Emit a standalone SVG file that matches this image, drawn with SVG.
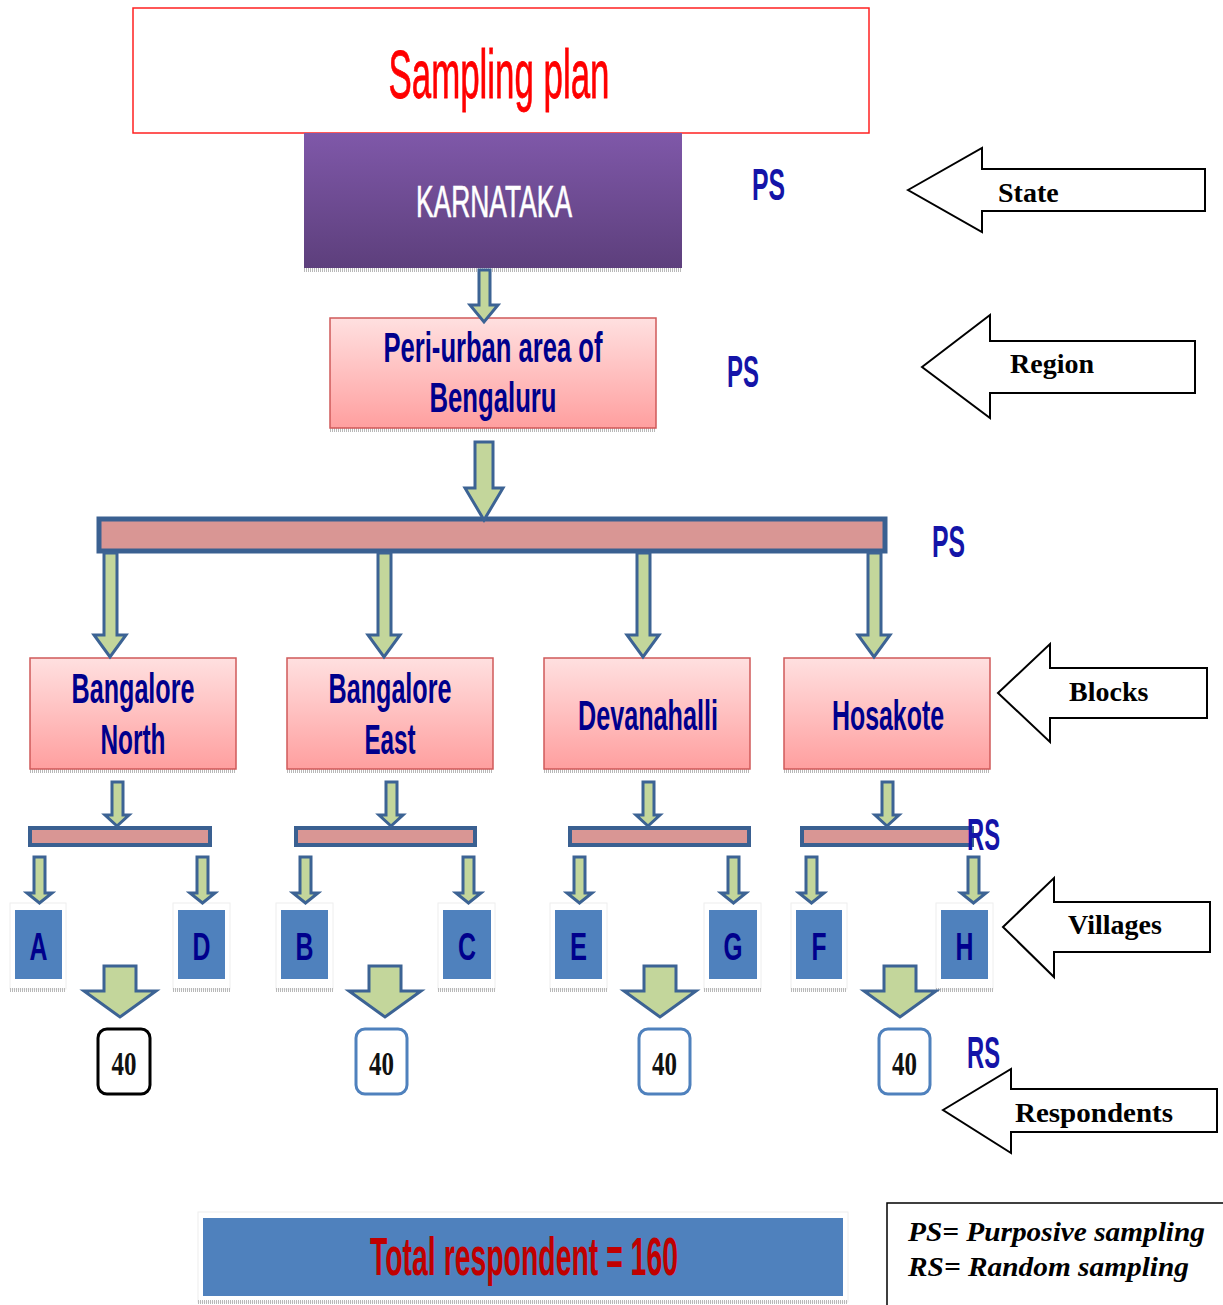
<svg xmlns="http://www.w3.org/2000/svg" width="1223" height="1305" viewBox="0 0 1223 1305">
<defs>
<linearGradient id="gPurple" x1="0" y1="0" x2="0" y2="1"><stop offset="0" stop-color="#7f58a9"/><stop offset="1" stop-color="#5d3f7c"/></linearGradient>
<linearGradient id="gPink" x1="0" y1="0" x2="0" y2="1"><stop offset="0" stop-color="#ffe0e0"/><stop offset="1" stop-color="#ff9f9f"/></linearGradient>
</defs>
<style>
.sans{font-family:"Liberation Sans",Arial,sans-serif}
.serif{font-family:"Liberation Serif","Times New Roman",serif}
.navy{fill:#00008c;font-weight:bold}
.code{fill:#1414a8;font-weight:bold;font-size:44px}
.pink{fill:url(#gPink);stroke:#d05a5a;stroke-width:1.5}
.bar{fill:#d99694;stroke:#3a6091;stroke-width:5}
.sbar{fill:#d99694;stroke:#3a6091;stroke-width:4}
.arr{fill:#c3d69b;stroke:#3c6394;stroke-width:3;stroke-linejoin:miter}
.shadow{stroke:#b8b8b8;stroke-width:4;stroke-dasharray:1 1;fill:none}
.vframe{fill:#fff;stroke:#eee;stroke-width:1}
.vbox{fill:#4f81bd}
.vlet{font-size:39px}
.cnt{fill:#fff;stroke-width:3}
.num{font-size:34px;font-weight:bold;fill:#111}
.side{fill:#fff;stroke:#000;stroke-width:2}
.lab{font-size:28px;font-weight:bold;fill:#000}
.legend{font-size:28px;font-weight:bold;font-style:italic;fill:#000}
</style>

<g id="title">
<rect x="133" y="8" width="736" height="125" fill="#fff" stroke="#ff2020" stroke-width="1.5"/>
<text x="499" y="98" class="sans" font-size="68" fill="#ff0000" text-anchor="middle" textLength="221" lengthAdjust="spacingAndGlyphs" stroke="#ff0000" stroke-width="0.8">Sampling plan</text>
</g>

<g id="karnataka">
<line x1="304" y1="270" x2="682" y2="270" class="shadow"/>
<rect x="304" y="133" width="378" height="135" fill="url(#gPurple)"/>
<text x="494" y="217" class="sans" font-size="44" fill="#fff" text-anchor="middle" textLength="156" lengthAdjust="spacingAndGlyphs" stroke="#fff" stroke-width="0.6">KARNATAKA</text>
</g>

<g id="periurban">
<line x1="330" y1="430" x2="656" y2="430" class="shadow"/>
<rect x="330" y="318" width="326" height="110" class="pink"/>
<text transform="translate(493,362) scale(0.61,1)" x="0" y="0" class="sans navy" font-size="42" text-anchor="middle" textLength="359" lengthAdjust="spacingAndGlyphs">Peri-urban area of</text>
<text x="493" y="412" class="sans navy" font-size="42" text-anchor="middle" textLength="127" lengthAdjust="spacingAndGlyphs">Bengaluru</text>
</g>

<g id="mainbar"><rect x="99" y="519" width="786" height="32" class="bar"/></g>

<g id="block-north">
<line x1="30" y1="771" x2="236" y2="771" class="shadow"/>
<rect x="30" y="658" width="206" height="111" class="pink"/>
<text x="133" y="703" class="sans navy" font-size="42" text-anchor="middle" textLength="123" lengthAdjust="spacingAndGlyphs">Bangalore</text>
<text x="133" y="754" class="sans navy" font-size="42" text-anchor="middle" textLength="65" lengthAdjust="spacingAndGlyphs">North</text>
</g>
<g id="block-east">
<line x1="287" y1="771" x2="493" y2="771" class="shadow"/>
<rect x="287" y="658" width="206" height="111" class="pink"/>
<text x="390" y="703" class="sans navy" font-size="42" text-anchor="middle" textLength="123" lengthAdjust="spacingAndGlyphs">Bangalore</text>
<text x="390" y="754" class="sans navy" font-size="42" text-anchor="middle" textLength="51" lengthAdjust="spacingAndGlyphs">East</text>
</g>
<g id="block-devanahalli">
<line x1="544" y1="771" x2="750" y2="771" class="shadow"/>
<rect x="544" y="658" width="206" height="111" class="pink"/>
<text x="648" y="730" class="sans navy" font-size="42" text-anchor="middle" textLength="140" lengthAdjust="spacingAndGlyphs">Devanahalli</text>
</g>
<g id="block-hosakote">
<line x1="784" y1="771" x2="990" y2="771" class="shadow"/>
<rect x="784" y="658" width="206" height="111" class="pink"/>
<text x="888" y="730" class="sans navy" font-size="42" text-anchor="middle" textLength="112" lengthAdjust="spacingAndGlyphs">Hosakote</text>
</g>

<g id="subbars">
<rect x="30" y="828" width="180" height="17" class="sbar"/>
<rect x="296" y="828" width="179" height="17" class="sbar"/>
<rect x="570" y="828" width="179" height="17" class="sbar"/>
<rect x="802" y="828" width="170" height="17" class="sbar"/>
</g>

<g id="villages" class="sans">
<g id="v-A"><rect x="10" y="903" width="56" height="86" class="vframe"/><line x1="10" y1="990" x2="66" y2="990" class="shadow"/><rect x="15" y="910" width="47" height="69" class="vbox"/><text x="38.5" y="960" class="navy vlet" text-anchor="middle" textLength="18" lengthAdjust="spacingAndGlyphs">A</text></g>
<g id="v-D"><rect x="173" y="903" width="57" height="86" class="vframe"/><line x1="173" y1="990" x2="230" y2="990" class="shadow"/><rect x="178" y="910" width="47" height="69" class="vbox"/><text x="201.5" y="960" class="navy vlet" text-anchor="middle" textLength="18" lengthAdjust="spacingAndGlyphs">D</text></g>
<g id="v-B"><rect x="276" y="903" width="57" height="86" class="vframe"/><line x1="276" y1="990" x2="333" y2="990" class="shadow"/><rect x="281" y="910" width="47" height="69" class="vbox"/><text x="304.5" y="960" class="navy vlet" text-anchor="middle" textLength="18" lengthAdjust="spacingAndGlyphs">B</text></g>
<g id="v-C"><rect x="438" y="903" width="57" height="86" class="vframe"/><line x1="438" y1="990" x2="495" y2="990" class="shadow"/><rect x="443" y="910" width="48" height="69" class="vbox"/><text x="467" y="960" class="navy vlet" text-anchor="middle" textLength="18" lengthAdjust="spacingAndGlyphs">C</text></g>
<g id="v-E"><rect x="550" y="903" width="57" height="86" class="vframe"/><line x1="550" y1="990" x2="607" y2="990" class="shadow"/><rect x="555" y="910" width="47" height="69" class="vbox"/><text x="578.5" y="960" class="navy vlet" text-anchor="middle" textLength="17" lengthAdjust="spacingAndGlyphs">E</text></g>
<g id="v-G"><rect x="704" y="903" width="57" height="86" class="vframe"/><line x1="704" y1="990" x2="761" y2="990" class="shadow"/><rect x="709" y="910" width="48" height="69" class="vbox"/><text x="733" y="960" class="navy vlet" text-anchor="middle" textLength="19" lengthAdjust="spacingAndGlyphs">G</text></g>
<g id="v-F"><rect x="791" y="903" width="56" height="86" class="vframe"/><line x1="791" y1="990" x2="847" y2="990" class="shadow"/><rect x="796" y="910" width="46" height="69" class="vbox"/><text x="819" y="960" class="navy vlet" text-anchor="middle" textLength="15" lengthAdjust="spacingAndGlyphs">F</text></g>
<g id="v-H"><rect x="936" y="903" width="57" height="86" class="vframe"/><line x1="936" y1="990" x2="993" y2="990" class="shadow"/><rect x="941" y="910" width="47" height="69" class="vbox"/><text x="964.5" y="960" class="navy vlet" text-anchor="middle" textLength="18" lengthAdjust="spacingAndGlyphs">H</text></g>
</g>

<g id="counts" class="serif">
<g id="c1"><rect x="98" y="1029" width="52" height="65" rx="9" class="cnt" stroke="#000"/><text x="124" y="1075" class="num" text-anchor="middle" textLength="25" lengthAdjust="spacingAndGlyphs">40</text></g>
<g id="c2"><rect x="356" y="1029" width="51" height="65" rx="9" class="cnt" stroke="#4f81bd"/><text x="381.5" y="1075" class="num" text-anchor="middle" textLength="25" lengthAdjust="spacingAndGlyphs">40</text></g>
<g id="c3"><rect x="639" y="1029" width="51" height="65" rx="9" class="cnt" stroke="#4f81bd"/><text x="664.5" y="1075" class="num" text-anchor="middle" textLength="25" lengthAdjust="spacingAndGlyphs">40</text></g>
<g id="c4"><rect x="879" y="1029" width="51" height="65" rx="9" class="cnt" stroke="#4f81bd"/><text x="904.5" y="1075" class="num" text-anchor="middle" textLength="25" lengthAdjust="spacingAndGlyphs">40</text></g>
</g>

<g id="connectors">
<path class="arr" d="M479,270 H490 V305 H498 L484,322 L470,305 H479 Z"/>
<path class="arr" d="M475,442 H493 V488 H503 L484,520 L465,488 H475 Z"/>
<path class="arr" d="M104,553 H117 V635 H126 L110,657 L94,635 H104 Z"/>
<path class="arr" d="M378,553 H391 V635 H400 L384,657 L368,635 H378 Z"/>
<path class="arr" d="M637,553 H650 V635 H659 L643,657 L627,635 H637 Z"/>
<path class="arr" d="M868,553 H881 V635 H890 L874,657 L858,635 H868 Z"/>
<path class="arr" d="M112,782 H123 V815 H129 L117,826 L105,815 H112 Z"/>
<path class="arr" d="M386,782 H397 V815 H403 L391,826 L379,815 H386 Z"/>
<path class="arr" d="M643,782 H654 V815 H660 L648,826 L636,815 H643 Z"/>
<path class="arr" d="M882,782 H893 V815 H899 L887,826 L875,815 H882 Z"/>
<path class="arr" d="M34,857 H45 V893 H52 L39.5,903 L27,893 H34 Z"/>
<path class="arr" d="M197,857 H208 V893 H215 L202.5,903 L190,893 H197 Z"/>
<path class="arr" d="M300,857 H311 V893 H318 L305.5,903 L293,893 H300 Z"/>
<path class="arr" d="M463,857 H474 V893 H481 L468.5,903 L456,893 H463 Z"/>
<path class="arr" d="M574,857 H585 V893 H592 L579.5,903 L567,893 H574 Z"/>
<path class="arr" d="M728,857 H739 V893 H746 L733.5,903 L721,893 H728 Z"/>
<path class="arr" d="M806,857 H817 V893 H824 L811.5,903 L799,893 H806 Z"/>
<path class="arr" d="M968,857 H979 V893 H986 L973.5,903 L961,893 H968 Z"/>
<path class="arr" d="M104,966 H136 V991 H156 L120,1017 L84,991 H104 Z"/>
<path class="arr" d="M369,966 H401 V991 H421 L385,1017 L349,991 H369 Z"/>
<path class="arr" d="M644,966 H676 V991 H696 L660,1017 L624,991 H644 Z"/>
<path class="arr" d="M884,966 H916 V991 H936 L900,1017 L864,991 H884 Z"/>
</g>

<g id="method-labels" class="sans">
<text transform="translate(768.5,200) scale(0.56,1)" x="0" y="0" class="code" text-anchor="middle" textLength="59" lengthAdjust="spacingAndGlyphs">PS</text>
<text transform="translate(743,387) scale(0.56,1)" x="0" y="0" class="code" text-anchor="middle" textLength="57" lengthAdjust="spacingAndGlyphs">PS</text>
<text transform="translate(948.5,557) scale(0.56,1)" x="0" y="0" class="code" text-anchor="middle" textLength="59" lengthAdjust="spacingAndGlyphs">PS</text>
<text transform="translate(983.5,850) scale(0.56,1)" x="0" y="0" class="code" text-anchor="middle" textLength="59" lengthAdjust="spacingAndGlyphs">RS</text>
<text transform="translate(983.5,1068) scale(0.56,1)" x="0" y="0" class="code" text-anchor="middle" textLength="59" lengthAdjust="spacingAndGlyphs">RS</text>
</g>

<g id="level-state"><path class="side" d="M908,190 L982,148 V169 H1205 V211 H982 V232 Z"/><text x="998" y="202" class="serif lab">State</text></g>
<g id="level-region"><path class="side" d="M922,367 L990,315 V341 H1195 V393 H990 V418 Z"/><text x="1010" y="373" class="serif lab">Region</text></g>
<g id="level-blocks"><path class="side" d="M998,693 L1050,644 V668 H1207 V718 H1050 V742 Z"/><text x="1069" y="701" class="serif lab">Blocks</text></g>
<g id="level-villages"><path class="side" d="M1003,927 L1054,878 V902 H1210 V952 H1054 V977 Z"/><text x="1068" y="934" class="serif lab">Villages</text></g>
<g id="level-respondents"><path class="side" d="M943,1110 L1011,1069 V1089 H1217 V1132 H1011 V1153 Z"/><text x="1015" y="1122" class="serif lab" textLength="158" lengthAdjust="spacingAndGlyphs">Respondents</text></g>

<g id="total">
<rect x="198" y="1212" width="650" height="90" fill="#fff" stroke="#eee" stroke-width="1"/>
<line x1="198" y1="1302" x2="848" y2="1302" class="shadow"/>
<rect x="203" y="1218" width="640" height="78" fill="#4f81bd"/>
<text transform="translate(524,1275) scale(0.53,1)" x="0" y="0" class="sans" font-size="53" font-weight="bold" fill="#c00000" text-anchor="middle" textLength="581" lengthAdjust="spacingAndGlyphs">Total respondent = 160</text>
</g>

<g id="legend">
<rect x="887" y="1203" width="345" height="120" fill="#fff" stroke="#000" stroke-width="1.5"/>
<text x="908" y="1241" class="serif legend" textLength="297" lengthAdjust="spacingAndGlyphs">PS= Purposive sampling</text>
<text x="908" y="1276" class="serif legend" textLength="281" lengthAdjust="spacingAndGlyphs">RS= Random sampling</text>
</g>
</svg>
